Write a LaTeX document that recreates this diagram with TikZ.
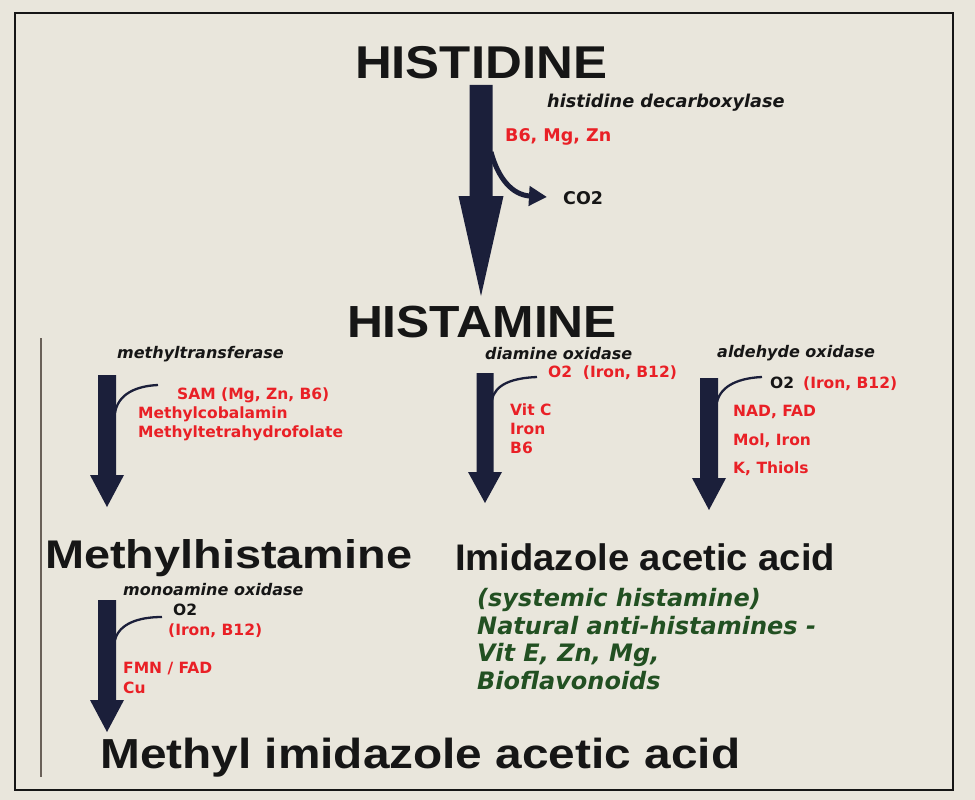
\documentclass[tikz,border=0pt]{standalone}
\usepackage{fontspec}
\usepackage{graphicx}
\setmainfont{Liberation Sans}
\newfontfamily\dvs{DejaVu Sans}
\usetikzlibrary{arrows.meta,calc}
\definecolor{bgc}{RGB}{233,230,220}
\definecolor{navy}{RGB}{27,31,58}
\definecolor{redt}{RGB}{233,32,38}
\definecolor{greent}{RGB}{34,80,34}
\definecolor{blk}{RGB}{22,22,22}
\definecolor{linec}{RGB}{105,96,88}
\tikzset{
  title/.style={inner sep=0pt, text=blk, font=\bfseries},
  lbl/.style={inner sep=0pt, anchor=base west, font=\dvs\bfseries\fontsize{15.5}{18}\selectfont},
  toplbl/.style={inner sep=0pt, anchor=base west, font=\dvs\bfseries\fontsize{17.5}{20}\selectfont},
  enz/.style={inner sep=0pt, anchor=base west, text=blk, font=\dvs\bfseries\itshape\fontsize{16}{18}\selectfont},
  cof/.style={lbl, text=redt},
  blklbl/.style={lbl, text=blk},
  grn/.style={inner sep=0pt, anchor=base west, text=greent, font=\dvs\bfseries\itshape\fontsize{24}{27}\selectfont},
  arrowfill/.style={fill=navy},
  branch/.style={draw=navy, line width=2.3pt},
}
% title text: fixed width, natural height, no depth
\newcommand{\titletext}[3]{\raisebox{0pt}[\height][0pt]{\resizebox{#1}{\height}{\fontsize{#2}{#2}\selectfont #3}}}
% #1 start coordinate, #2 tip coordinate, #3 half shaft width, #4 half head width, #5 head length
\newcommand{\downarrowshape}[5]{%
  \fill[arrowfill] let \p1=(#1), \p2=(#2) in
    (\x1-#3,\y1) -- (\x1+#3,\y1) -- (\x2+#3,\y2+#5) -- (\x2+#4,\y2+#5) -- (\x2,\y2)
    -- (\x2-#4,\y2+#5) -- (\x2-#3,\y2+#5) -- cycle;}
\begin{document}
\begin{tikzpicture}[x=1pt,y=-1pt]
\useasboundingbox (0,0) rectangle (975,800);
\fill[bgc] (0,0) rectangle (975,800);
\draw[line width=1.8pt, blk] (15,13) rectangle (953,790);
\draw[line width=1.3pt, linec] (41,338) -- (41,777);

% titles
\node[title, anchor=base] (histidine) at (481,78) {\titletext{252pt}{46}{HISTIDINE}};
\node[title, anchor=base] (histamine) at (482,337) {\titletext{270pt}{45}{HISTAMINE}};
\node[title, anchor=base west] (methylhist) at (45,568) {\titletext{367pt}{40}{Methylhistamine}};
\node[title, anchor=base west] (imidazole) at (455,570) {\titletext{380pt}{37}{Imidazole acetic acid}};
\node[title, anchor=base west] (methylimid) at (100,768) {\titletext{640pt}{42}{Methyl imidazole acetic acid}};

% main arrow
\coordinate (a0s) at (481,85);
\coordinate (a0e) at (481,296);
\downarrowshape{a0s}{a0e}{11.5pt}{22.5pt}{100pt}
\coordinate (co2s) at (491,152);
\coordinate (co2e) at (547,197);
\draw[draw=navy, line width=5pt, -{Triangle[length=18pt,width=19pt]}] (co2s) .. controls (498,178) and (512,195) .. (co2e);
\node[enz, font=\dvs\bfseries\itshape\fontsize{17.7}{20}\selectfont] (hdc) at (547,107) {histidine decarboxylase};
\node[toplbl, text=redt] (b6mgzn) at (505,141) {B6, Mg, Zn};
\node[toplbl, text=blk] (co2) at (563,204) {CO2};

% left branch: methyltransferase
\coordinate (a1s) at (107,375);
\coordinate (a1e) at (107,507);
\downarrowshape{a1s}{a1e}{9pt}{17pt}{32pt}
\coordinate (b1s) at (115,413);
\coordinate (b1e) at (158,385);
\draw[branch] (b1s) .. controls (118,394) and (136,386) .. (b1e);
\node[enz] (mt) at (117,358) {methyltransferase};
\node[cof] (sam) at (177,399) {SAM (Mg, Zn, B6)};
\node[cof] (mcb) at (138,418) {Methylcobalamin};
\node[cof] (mthf) at (138,437) {Methyltetrahydrofolate};

% middle branch: diamine oxidase
\coordinate (a2s) at (485,373);
\coordinate (a2e) at (485,503);
\downarrowshape{a2s}{a2e}{8.5pt}{17pt}{31pt}
\coordinate (b2s) at (492,400);
\coordinate (b2e) at (537,377);
\draw[branch] (b2s) .. controls (495,384) and (513,378) .. (b2e);
\node[enz] (dao) at (485,359) {diamine oxidase};
\node[cof] (o2m) at (548,377) {O2\ \ (Iron, B12)};
\node[cof] (vitc) at (510,415) {Vit C};
\node[cof] (iron) at (510,434) {Iron};
\node[cof] (b6m) at (510,453) {B6};

% right branch: aldehyde oxidase
\coordinate (a3s) at (709,378);
\coordinate (a3e) at (709,510);
\downarrowshape{a3s}{a3e}{9pt}{17pt}{32pt}
\coordinate (b3s) at (717,402);
\coordinate (b3e) at (762,377);
\draw[branch] (b3s) .. controls (721,385) and (740,378) .. (b3e);
\node[enz] (ao) at (717,357) {aldehyde oxidase};
\node[blklbl] (o2r) at (770,388) {O2};
\node[cof] (ironr) at (803,388) {(Iron, B12)};
\node[cof] (nad) at (733,416) {NAD, FAD};
\node[cof] (mol) at (733,445) {Mol, Iron};
\node[cof] (kth) at (733,473) {K, Thiols};

% bottom-left branch: monoamine oxidase
\coordinate (a4s) at (107,600);
\coordinate (a4e) at (107,732);
\downarrowshape{a4s}{a4e}{9pt}{17pt}{32pt}
\coordinate (b4s) at (115,640);
\coordinate (b4e) at (162,617);
\draw[branch] (b4s) .. controls (119,624) and (138,617) .. (b4e);
\node[enz] (mao) at (123,595) {monoamine oxidase};
\node[blklbl] (o2b) at (173,615) {O2};
\node[cof] (ironb) at (168,635) {(Iron, B12)};
\node[cof] (fmn) at (123,673) {FMN / FAD};
\node[cof] (cu) at (123,693) {Cu};

% green notes
\node[grn] (g1) at (477,606) {(systemic histamine)};
\node[grn] (g2) at (477,634) {Natural anti-histamines -};
\node[grn] (g3) at (477,661) {Vit E, Zn, Mg,};
\node[grn] (g4) at (477,689) {Bioflavonoids};
\end{tikzpicture}
\end{document}
